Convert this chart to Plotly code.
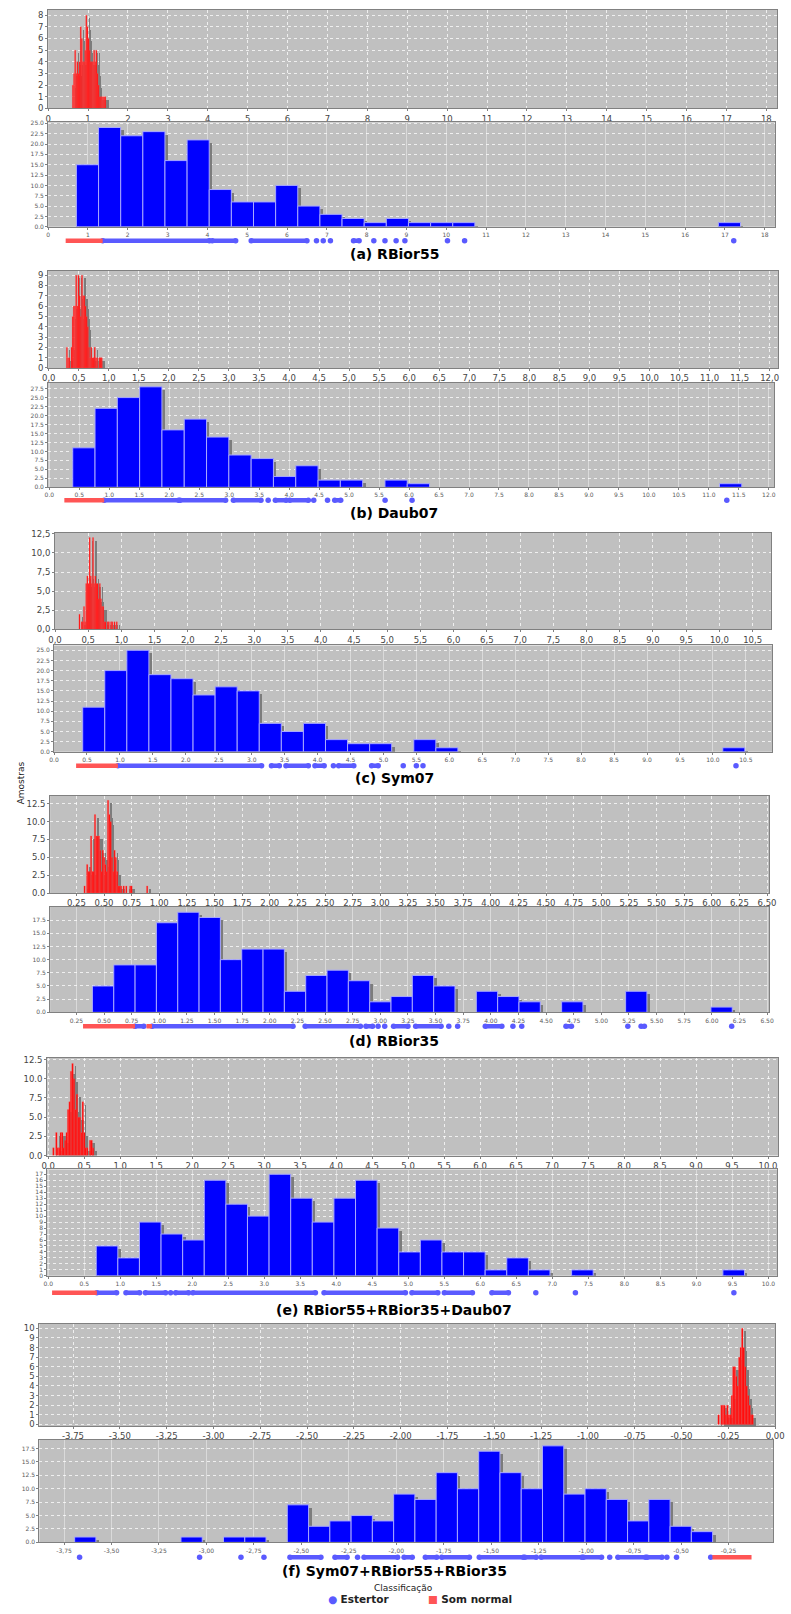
import numpy as np
import plotly.graph_objects as go

W, H = 791, 1614

# ---------------------------------------------------------------- data
captions = ["(a) RBior55", "(b) Daub07", "(c) Sym07", "(d) RBior35",
            "(e) RBior55+RBior35+Daub07", "(f) Sym07+RBior55+RBior35"]

# (a) RBior55
a_red_start, a_red_width = 0.607, 0.028
a_red_counts = [2, 3, 5, 3, 4, 3, 4, 7, 6, 4, 4, 5, 8, 7, 6, 5, 4, 4, 4, 5, 4, 5, 3, 2, 1, 1, 1, 1, 1, 1]
a_blue_start, a_blue_width = 0.71, 0.556
a_blue_counts = [15, 24, 22, 23, 16, 21, 9, 6, 6, 10, 5, 3, 2, 1, 2, 1, 1, 1,
                 0, 0, 0, 0, 0, 0, 0, 0, 0, 0, 0, 1]
a_strip_red = [[0.44, 1.37]]
a_strip_runs = [[1.37, 4.05], [4.12, 4.71], [5.1, 6.5], [7.67, 7.81]]
a_strip_dots = [6.74, 6.91, 7.09, 8.18, 8.46, 8.74, 8.96, 10.03, 10.46, 17.22]

# (b) Daub07
b_red_start, b_red_width = 0.293, 0.0193
b_red_counts = [2, 1, 1, 0, 2, 5, 6, 6, 9, 6, 9, 7, 5, 9, 7, 7, 6, 5, 4, 2, 1, 2, 1, 1, 2, 1, 1, 0, 1, 1, 1]
b_blue_start, b_blue_width = 0.39, 0.372
b_blue_counts = [11, 22, 25, 28, 16, 19, 14, 9, 8, 3, 6, 2, 2, 0, 2, 1,
                 0, 0, 0, 0, 0, 0, 0, 0, 0, 0, 0, 0, 0, 1]
b_strip_red = [[0.25, 0.915]]
b_strip_runs = [[0.915, 2.157], [2.18, 2.94], [3.07, 3.53], [3.77, 3.95], [4.01, 4.32], [4.76, 4.86]]
b_strip_dots = [3.65, 4.41, 4.64, 5.6, 6.05, 11.3]

# (c) Sym07
c_red_start, c_red_width = 0.36, 0.017
c_red_counts = [2, 0, 1, 1, 3, 1, 6, 7, 6, 12, 7, 6, 12, 6, 7, 6, 6, 4, 6, 4, 3, 3, 1, 1, 0, 1, 1, 0, 1, 1, 0, 1, 0, 1]
c_blue_start, c_blue_width = 0.435, 0.335
c_blue_counts = [11, 20, 25, 19, 18, 14, 16, 15, 7, 5, 7, 3, 2, 2, 0, 3, 1,
                 0, 0, 0, 0, 0, 0, 0, 0, 0, 0, 0, 0, 1]
c_strip_red = [[0.335, 0.97]]
c_strip_runs = [[0.97, 3.15], [3.3, 3.42], [3.52, 3.86], [3.96, 4.1], [4.32, 4.55], [4.82, 4.92]]
c_strip_dots = [4.24, 5.3, 5.5, 5.6, 10.35]

# (d) RBior35
d_red_start, d_red_width = 0.318, 0.0118
d_red_counts = [1, 0, 4, 3, 3, 8, 3, 3, 11, 8, 8, 8, 6, 3, 6, 5, 4, 3, 13, 11, 10, 5, 3, 6, 5, 3,
                1, 1, 1, 0, 1, 0, 1, 0, 0, 1, 1, 0, 0, 0, 0, 0, 0, 0, 0, 0, 0, 0, 1]
d_blue_start, d_blue_width = 0.395, 0.193
d_blue_counts = [5, 9, 9, 17, 19, 18, 10, 12, 12, 4, 7, 8, 6, 2, 3, 7, 5, 0, 4, 3, 2, 0, 2,
                 0, 0, 4, 0, 0, 0, 1]
d_strip_red = [[0.31, 0.78], [0.884, 0.934]]
d_strip_runs = [[0.78, 0.86], [0.934, 2.21], [2.32, 2.82], [2.87, 2.93], [3.12, 3.25],
                [3.32, 3.55], [3.95, 4.1], [4.68, 4.73], [5.36, 5.39]]
d_strip_dots = [2.98, 3.04, 3.62, 3.7, 4.2, 4.28, 5.24, 6.18]

# (e) RBior55+RBior35+Daub07
e_red_start, e_red_width = 0.063, 0.0204
e_red_counts = [1, 0, 3, 1, 1, 3, 3, 1, 2, 3, 6, 7, 11, 12, 10, 6, 8, 5, 5, 3, 7, 3, 1, 1, 0, 2, 2, 1]
e_blue_start, e_blue_width = 0.667, 0.3
e_blue_counts = [5, 3, 9, 7, 6, 16, 12, 10, 17, 13, 9, 13, 16, 8, 4, 6, 4, 4, 1, 3, 1, 0, 1,
                 0, 0, 0, 0, 0, 0, 1]
e_strip_red = [[0.054, 0.676]]
e_strip_runs = [[0.676, 0.95], [1.08, 1.27], [1.35, 1.63], [1.77, 1.95], [2.01, 3.71], [3.83, 4.96],
                [5.05, 5.41], [5.5, 5.89], [6.16, 6.39]]
e_strip_dots = [1.7, 6.77, 7.32, 9.52]

# (f) Sym07+RBior55+RBior35
f_red_start, f_red_width = -0.306, 0.0079
f_red_counts = [1, 0, 2, 2, 2, 1, 2, 1, 1, 3, 6, 6, 5, 4, 7, 8, 10, 8, 6, 4, 3, 2, 1, 1]
f_blue_start, f_blue_width = -3.694, 0.112
f_blue_counts = [1, 0, 0, 0, 0, 1, 0, 1, 1, 0, 7, 3, 4, 5, 4, 9, 8, 13, 10, 17, 13, 10, 18, 9, 10,
                 8, 4, 8, 3, 2]
f_strip_red = [[-0.335, -0.129]]
f_strip_runs = [[-2.56, -2.397], [-2.323, -2.259], [-2.17, -1.993], [-1.959, -1.916], [-1.847, -1.787],
                [-1.761, -1.615], [-1.563, -1.331], [-1.323, -1.263], [-1.237, -1.022],
                [-1.014, -0.919], [-0.833, -0.687], [-0.679, -0.601]]
f_strip_dots = [-3.668, -3.036, -2.818, -2.697, -2.204, -0.876, -0.575, -0.524, -0.344]

legend_title = "Classificação"
legend_labels = ["Estertor", "Som normal"]
y_title = "Amostras"

data = [
    (a_red_start, a_red_width, a_red_counts, a_blue_start, a_blue_width, a_blue_counts, a_strip_red, a_strip_runs, a_strip_dots),
    (b_red_start, b_red_width, b_red_counts, b_blue_start, b_blue_width, b_blue_counts, b_strip_red, b_strip_runs, b_strip_dots),
    (c_red_start, c_red_width, c_red_counts, c_blue_start, c_blue_width, c_blue_counts, c_strip_red, c_strip_runs, c_strip_dots),
    (d_red_start, d_red_width, d_red_counts, d_blue_start, d_blue_width, d_blue_counts, d_strip_red, d_strip_runs, d_strip_dots),
    (e_red_start, e_red_width, e_red_counts, e_blue_start, e_blue_width, e_blue_counts, e_strip_red, e_strip_runs, e_strip_dots),
    (f_red_start, f_red_width, f_red_counts, f_blue_start, f_blue_width, f_blue_counts, f_strip_red, f_strip_runs, f_strip_dots),
]

# ---------------------------------------------------------------- layout geometry (pixels) and axis setup
geom = [
    dict(red=(42, 786, 6, 105), blue=(42, 784, 119, 224), strip=238, cap=251,
         rx=(0, 18.27), ry=(0, 8.45), bx=(0, 18.26), by=(0, 25.25),
         rxt=(0, 18, 1, 0, False), ryt=(0, 8, 1, 0, False), bxt=(0, 18, 1, 0, False), byt=(0, 25, 2.5, 1, False)),
    dict(red=(42, 787, 268, 366), blue=(42, 783, 381, 486), strip=499, cap=512,
         rx=(-0.01, 12.14), ry=(0, 9.45), bx=(-0.02, 12.09), by=(0, 29.1),
         rxt=(0, 12, 0.5, 1, True), ryt=(0, 9, 1, 0, False), bxt=(0, 12, 0.5, 1, False), byt=(0, 27.5, 2.5, 1, False)),
    dict(red=(49, 780, 532, 629), blue=(48, 781, 645, 752), strip=766, cap=778,
         rx=(0, 10.78), ry=(0, 12.6), bx=(0, 10.9), by=(0, 26.2),
         rxt=(0, 10.5, 0.5, 1, True), ryt=(0, 12.5, 2.5, 1, True), bxt=(0, 10.5, 0.5, 1, False), byt=(0, 25, 2.5, 1, False)),
    dict(red=(44, 778, 796, 894), blue=(44, 778, 908, 1014), strip=1028, cap=1043,
         rx=(0.012, 6.52), ry=(0, 13.66), bx=(0.012, 6.52), by=(0, 20.0),
         rxt=(0.25, 6.5, 0.25, 2, False), ryt=(0, 12.5, 2.5, 1, False), bxt=(0.25, 6.5, 0.25, 2, False), byt=(0, 17.5, 2.5, 1, False)),
    dict(red=(41, 787, 1060, 1158), blue=(41, 786, 1172, 1279), strip=1296, cap=1313,
         rx=(-0.014, 10.14), ry=(0, 12.7), bx=(-0.014, 10.12), by=(0, 17.8),
         rxt=(0, 10, 0.5, 1, False), ryt=(0, 12.5, 2.5, 1, False), bxt=(0, 10, 0.5, 1, False), byt=(0, 17, 1, 0, False)),
    dict(red=(33, 784, 1327, 1430), blue=(33, 782, 1444, 1547), strip=1562, cap=1576,
         rx=(-3.93, 0.0), ry=(-0.17, 10.49), bx=(-3.88, -0.015), by=(0, 19.1),
         rxt=(-3.75, 0, 0.25, 2, True), ryt=(0, 10, 1, 0, False), bxt=(-3.75, 0, 0.25, 2, True), byt=(0, 17.5, 2.5, 1, False)),
]

BG = "#c0c0c0"
SHADOW = "#7c7c7c"
BLUE = "#0000ff"
RED = "#ff0000"
STRIP_BLUE = "#5a5aff"
STRIP_RED = "#ff5555"
TICKC = "#444444"
FONT = "DejaVu Sans"


def fx(p):
    return p / W


def fy(p):
    return 1 - p / H


def ticks(spec):
    lo, hi, step, dec, comma = spec
    vals = [round(v, 6) + 0.0 for v in np.arange(lo, hi + step / 1000, step)]
    txt = [f"{v:.{dec}f}" for v in vals]
    if comma:
        txt = [t.replace(".", ",") for t in txt]
    return vals, txt


fig = go.Figure()
layout = {}
shapes = []
annotations = []
axn = [0]


def add_axes(box, xr, yr, xt, yt, kind, tick_size_x, tick_size_y, tick_col):
    axn[0] += 1
    n = axn[0]
    xname = "xaxis" if n == 1 else f"xaxis{n}"
    yname = "yaxis" if n == 1 else f"yaxis{n}"
    xref = "x" if n == 1 else f"x{n}"
    yref = "y" if n == 1 else f"y{n}"
    x0, x1, y0, y1 = box
    xv, xtx = ticks(xt)
    yv, ytx = ticks(yt)
    xgrid = dict(gridcolor="rgba(255,255,255,0.75)", griddash="dot") if kind == "red" else \
        dict(gridcolor="#dadada", griddash="solid")
    layout[xname] = dict(domain=[fx(x0), fx(x1)], anchor=yref, range=list(xr), tickmode="array",
                         tickvals=xv, ticktext=xtx, showline=True, linecolor="#808080", mirror=True,
                         ticks="outside", ticklen=2, tickcolor="#808080", showgrid=True, gridwidth=1,
                         zeroline=False, tickfont=dict(family=FONT, size=tick_size_x, color=tick_col),
                         fixedrange=True, **xgrid)
    layout[yname] = dict(domain=[fy(y1), fy(y0)], anchor=xref, range=list(yr), tickmode="array",
                         tickvals=yv, ticktext=ytx, showline=True, linecolor="#808080", mirror=True,
                         ticks="outside", ticklen=2, tickcolor="#808080", showgrid=True, gridwidth=1,
                         gridcolor="rgba(255,255,255,0.75)", griddash="dot", zeroline=False,
                         tickfont=dict(family=FONT, size=tick_size_y, color=tick_col), fixedrange=True)
    shapes.append(dict(type="rect", xref=f"{xref} domain", yref=f"{yref} domain", x0=0, x1=1, y0=0, y1=1,
                       fillcolor=BG, line=dict(width=0), layer="below"))
    return xref, yref


def add_hist(xref, yref, box, xr, yr, start, width, counts, color, line_color, line_w):
    x0, x1, y0, y1 = box
    dx = 3.0 * (xr[1] - xr[0]) / (x1 - x0)
    dy = 3.0 * (yr[1] - yr[0]) / (y1 - y0)
    centers = [start + width * (i + 0.5) for i in range(len(counts))]
    xs = [c for c, v in zip(centers, counts) if v > 0]
    ys = [v for v in counts if v > 0]
    fig.add_trace(go.Bar(x=[c + dx for c in xs], y=ys, base=[-dy] * len(ys), width=width,
                         marker=dict(color=SHADOW, line=dict(width=0)), xaxis=xref, yaxis=yref,
                         hoverinfo="skip", showlegend=False))
    fig.add_trace(go.Bar(x=xs, y=ys, width=width,
                         marker=dict(color=color, line=dict(width=line_w, color=line_color)),
                         xaxis=xref, yaxis=yref, showlegend=False))


def add_strip(sy, box, xr, reds, runs, dots):
    axn[0] += 1
    n = axn[0]
    xname, yname = f"xaxis{n}", f"yaxis{n}"
    xref, yref = f"x{n}", f"y{n}"
    x0, x1 = box[0], box[1]
    layout[xname] = dict(domain=[fx(x0), fx(x1)], anchor=yref, range=list(xr), visible=False, fixedrange=True)
    layout[yname] = dict(domain=[fy(sy + 6), fy(sy - 6)], anchor=xref, range=[-1, 1], visible=False,
                         fixedrange=True)
    rx, ry = [], []
    for a, b in runs:
        rx += [a, b, None]
        ry += [0, 0, None]
    fig.add_trace(go.Scatter(x=rx, y=ry, mode="lines", line=dict(color=STRIP_BLUE, width=4.5),
                             xaxis=xref, yaxis=yref, showlegend=False, hoverinfo="skip"))
    ends = [v for a, b in runs for v in (a, b)] + list(dots)
    fig.add_trace(go.Scatter(x=ends, y=[0] * len(ends), mode="markers",
                             marker=dict(color=STRIP_BLUE, size=5.5, line=dict(width=0)),
                             xaxis=xref, yaxis=yref, showlegend=False))
    qx, qy = [], []
    for a, b in reds:
        qx += [a, b, None]
        qy += [0, 0, None]
    fig.add_trace(go.Scatter(x=qx, y=qy, mode="lines", line=dict(color=STRIP_RED, width=4.5),
                             xaxis=xref, yaxis=yref, showlegend=False, hoverinfo="skip"))


for g, d, cap in zip(geom, data, captions):
    rs, rw, rc, bs, bw, bc, sred, sruns, sdots = d
    xr_, yr_ = add_axes(g["red"], g["rx"], g["ry"], g["rxt"], g["ryt"], "red", 8.5, 8.5, TICKC)
    add_hist(xr_, yr_, g["red"], g["rx"], g["ry"], rs, rw, rc, RED, "#ff6a6a", 0.3)
    xb_, yb_ = add_axes(g["blue"], g["bx"], g["by"], g["bxt"], g["byt"], "blue", 6, 6, "#5a5a5a")
    add_hist(xb_, yb_, g["blue"], g["bx"], g["by"], bs, bw, bc, BLUE, "#a8a8ff", 1)
    add_strip(g["strip"], g["blue"], g["bx"], sred, sruns, sdots)
    annotations.append(dict(text=f"<b>{cap}</b>", x=fx(395), y=fy(g["cap"]), xref="paper", yref="paper",
                            xanchor="center", yanchor="middle", showarrow=False,
                            font=dict(family=FONT, size=14, color="#000000")))

annotations.append(dict(text=y_title, x=fx(14), y=fy(783), xref="paper", yref="paper", textangle=-90,
                        xanchor="center", yanchor="middle", showarrow=False,
                        font=dict(family=FONT, size=9, color="#222222")))
annotations.append(dict(text=legend_title, x=fx(405), y=fy(1593), xref="paper", yref="paper",
                        xanchor="center", yanchor="middle", showarrow=False,
                        font=dict(family=FONT, size=9, color="#222222")))
annotations.append(dict(text=f"<span style='color:{STRIP_BLUE}'>●</span> <b>{legend_labels[0]}</b>",
                        x=fx(326), y=fy(1604), xref="paper", yref="paper", xanchor="left", yanchor="middle",
                        showarrow=False, font=dict(family=FONT, size=10.5, color="#222222")))
annotations.append(dict(text=f"<span style='color:{STRIP_RED}'>■</span> <b>{legend_labels[1]}</b>",
                        x=fx(428), y=fy(1604), xref="paper", yref="paper", xanchor="left", yanchor="middle",
                        showarrow=False, font=dict(family=FONT, size=10.5, color="#222222")))

fig.update_layout(width=W, height=H, autosize=False, margin=dict(l=0, r=0, t=0, b=0),
                  paper_bgcolor="white", plot_bgcolor="rgba(0,0,0,0)", barmode="overlay", bargap=0,
                  showlegend=False, shapes=shapes, annotations=annotations,
                  font=dict(family=FONT), **layout)

fig.write_html("out.html", config={"displayModeBar": False, "staticPlot": True},
               post_script="document.body.style.margin='0px';document.body.style.padding='0px';")
